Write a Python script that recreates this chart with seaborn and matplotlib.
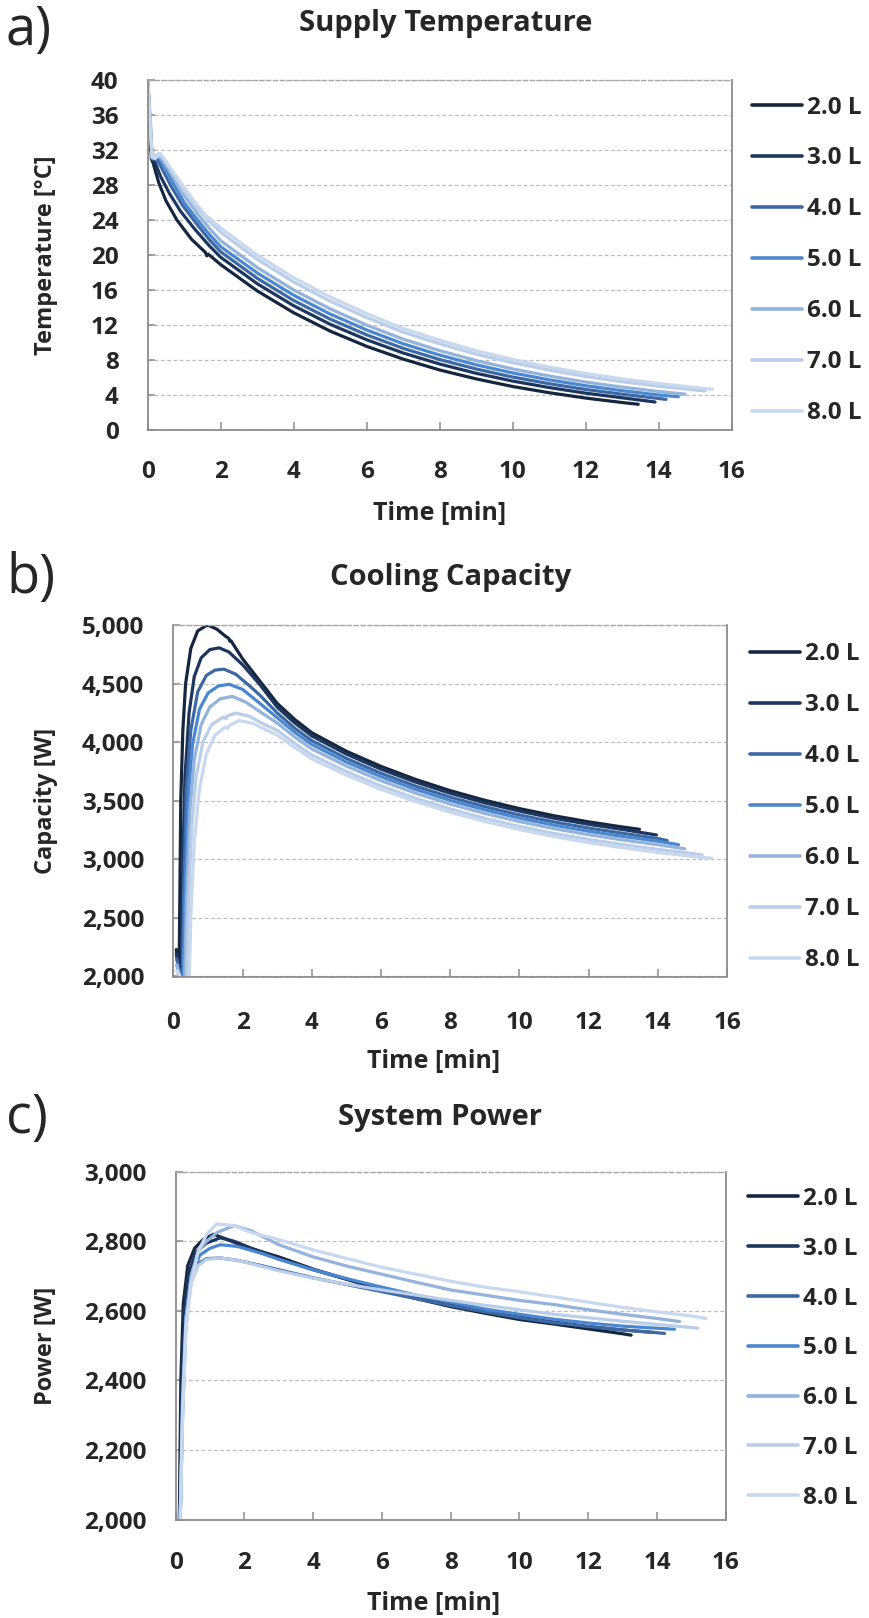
import matplotlib
matplotlib.use("Agg")
import matplotlib.pyplot as plt
import numpy as np
import pandas as pd
import seaborn as sns
from matplotlib.lines import Line2D
from matplotlib.ticker import FuncFormatter

# ---------------------------------------------------------------------------
# Series labels and colours (tank volume)
# ---------------------------------------------------------------------------
volumes = ["2.0 L", "3.0 L", "4.0 L", "5.0 L", "6.0 L", "7.0 L", "8.0 L"]
colors = ["#14273f", "#1c3660", "#3d68a3", "#4a87d2", "#93b2dc", "#bacde9", "#c8d9ef"]

# ---------------------------------------------------------------------------
# a) Supply temperature [°C] vs time [min]
# ---------------------------------------------------------------------------
t_sup_2 = [0, 0.06, 0.1, 0.15, 0.3, 0.5, 0.8, 1.2, 1.58, 1.62, 1.66, 2, 3, 4, 5, 6, 7, 8, 9, 10, 11, 12, 13, 13.44]
sup_2 = [40, 35, 31, 30.5, 28.3, 26.2, 24.0, 21.8, 20.3, 19.9, 20.1, 18.9, 15.9, 13.4, 11.3, 9.56, 8.1, 6.86, 5.84, 4.97, 4.26, 3.65, 3.14, 2.94]

t_sup_3 = [0, 0.08, 0.12, 0.2, 0.35, 0.6, 0.9, 1.3, 1.7, 2, 3, 4, 5, 6, 7, 8, 9, 10, 11, 12, 13, 13.9]
sup_3 = [40, 33, 31, 30.6, 29.0, 27.0, 25.0, 22.9, 21.0, 19.74, 16.72, 14.2, 12.08, 10.31, 8.8, 7.54, 6.48, 5.59, 4.85, 4.21, 3.68, 3.2]

t_sup_4 = [0, 0.08, 0.12, 0.25, 0.4, 0.65, 0.95, 1.35, 1.7, 2, 3, 4, 5, 6, 7, 8, 9, 10, 11, 12, 13, 14, 14.2]
sup_4 = [40, 34, 31, 31, 29.8, 27.8, 25.7, 23.5, 21.7, 20.37, 17.34, 14.8, 12.67, 10.87, 9.33, 8.05, 6.97, 6.05, 5.29, 4.63, 4.09, 3.6, 3.5]

t_sup_5 = [0, 0.08, 0.12, 0.28, 0.45, 0.7, 1.0, 1.4, 1.7, 2, 3, 4, 5, 6, 7, 8, 9, 10, 11, 12, 13, 14, 14.54]
sup_5 = [40, 34, 31.1, 31.2, 30.2, 28.2, 26.0, 23.8, 22.3, 20.95, 17.95, 15.4, 13.25, 11.43, 9.85, 8.56, 7.45, 6.52, 5.73, 5.06, 4.49, 4.0, 3.8]

t_sup_6 = [0, 0.08, 0.12, 0.3, 0.48, 0.72, 1.0, 1.4, 1.7, 2, 3, 4, 5, 6, 7, 8, 9, 10, 11, 12, 13, 14, 14.72]
sup_6 = [40, 35, 31.1, 31.4, 30.4, 28.7, 26.8, 24.5, 23.0, 21.63, 18.57, 16.0, 13.84, 11.99, 10.38, 9.07, 7.93, 6.98, 6.17, 5.48, 4.9, 4.4, 4.1]

t_sup_7 = [0, 0.07, 0.12, 0.32, 0.5, 0.75, 1.0, 1.3, 1.6, 1.63, 1.66, 2, 3, 4, 5, 6, 7, 8, 9, 10, 11, 12, 13, 14, 15, 15.27]
sup_7 = [40, 35, 31.2, 31.6, 30.6, 29.0, 27.3, 25.6, 24.2, 23.8, 24.0, 22.6, 19.51, 16.92, 14.73, 12.85, 11.18, 9.85, 8.67, 7.69, 6.85, 6.12, 5.52, 5.0, 4.58, 4.46]

t_sup_8 = [0, 0.05, 0.12, 0.2, 0.34, 0.5, 0.75, 1.0, 1.3, 1.58, 1.61, 1.64, 2, 3, 4, 5, 6, 7, 8, 9, 10, 11, 12, 13, 14, 15, 15.47]
sup_8 = [40, 36, 31.2, 31.0, 31.6, 30.7, 29.2, 27.7, 26.0, 24.6, 24.0, 24.4, 23.1, 20.0, 17.4, 15.2, 13.3, 11.6, 10.26, 9.06, 8.06, 7.2, 6.46, 5.84, 5.31, 4.85, 4.65]

# ---------------------------------------------------------------------------
# b) Cooling capacity [W] vs time [min]
# ---------------------------------------------------------------------------
t_cap_2 = [0.08, 0.12, 0.16, 0.21, 0.27, 0.35, 0.5, 0.7, 0.98, 1.25, 1.5, 1.6, 1.63, 1.66, 2, 2.5, 3, 3.5, 4, 5, 6, 7, 8, 9, 10, 11, 12, 13, 13.47]
cap_2 = [2230, 2150, 1980, 3500, 4100, 4500, 4800, 4950, 5000, 4965, 4905, 4885, 4862, 4866, 4710, 4520, 4330, 4195, 4080, 3922, 3793, 3682, 3586, 3504, 3433, 3372, 3320, 3275, 3256]

t_cap_3 = [0.08, 0.15, 0.22, 0.27, 0.33, 0.45, 0.6, 0.8, 1.05, 1.32, 1.6, 2, 2.5, 3, 3.5, 4, 5, 6, 7, 8, 9, 10, 11, 12, 13, 13.96]
cap_3 = [2200, 2050, 1950, 3000, 3700, 4250, 4560, 4720, 4790, 4805, 4770, 4660, 4490, 4298, 4165, 4053, 3898, 3769, 3659, 3564, 3482, 3412, 3351, 3299, 3254, 3208]

t_cap_4 = [0.1, 0.18, 0.25, 0.3, 0.37, 0.5, 0.7, 0.95, 1.2, 1.46, 1.8, 2.2, 2.5, 3, 3.5, 4, 5, 6, 7, 8, 9, 10, 11, 12, 13, 14, 14.27]
cap_4 = [2150, 2000, 1950, 2800, 3600, 4100, 4430, 4570, 4615, 4623, 4580, 4480, 4400, 4249, 4120, 4013, 3861, 3734, 3625, 3531, 3450, 3379, 3319, 3267, 3222, 3178, 3160]

t_cap_5 = [0.1, 0.2, 0.28, 0.34, 0.42, 0.55, 0.75, 1.0, 1.3, 1.61, 2, 2.5, 3, 3.5, 4, 5, 6, 7, 8, 9, 10, 11, 12, 13, 14, 14.6]
cap_5 = [2100, 1950, 1950, 2800, 3500, 3980, 4280, 4420, 4480, 4494, 4450, 4330, 4208, 4085, 3980, 3830, 3705, 3597, 3503, 3423, 3352, 3292, 3240, 3195, 3155, 3125]

t_cap_6 = [0.1, 0.22, 0.32, 0.38, 0.47, 0.6, 0.8, 1.05, 1.35, 1.7, 2.1, 2.5, 3, 3.5, 4, 5, 6, 7, 8, 9, 10, 11, 12, 13, 14, 14.78]
cap_6 = [2100, 1950, 1950, 2700, 3400, 3850, 4150, 4300, 4370, 4391, 4340, 4260, 4163, 4045, 3942, 3796, 3671, 3565, 3472, 3392, 3322, 3262, 3210, 3165, 3125, 3090]

t_cap_7 = [0.1, 0.25, 0.38, 0.43, 0.52, 0.65, 0.85, 1.1, 1.45, 1.52, 1.56, 1.8, 2.2, 2.5, 3, 3.5, 4, 5, 6, 7, 8, 9, 10, 11, 12, 13, 14, 15, 15.28]
cap_7 = [2050, 1950, 1950, 2600, 3250, 3700, 4000, 4150, 4215, 4200, 4225, 4248, 4220, 4170, 4100, 3990, 3890, 3749, 3626, 3521, 3430, 3350, 3281, 3221, 3170, 3125, 3085, 3050, 3038]

t_cap_8 = [0.1, 0.28, 0.45, 0.5, 0.6, 0.75, 0.95, 1.2, 1.5, 1.56, 1.6, 1.9, 2.3, 2.5, 3, 3.5, 4, 5, 6, 7, 8, 9, 10, 11, 12, 13, 14, 15, 15.55]
cap_8 = [2050, 1950, 1950, 2500, 3150, 3600, 3900, 4060, 4130, 4115, 4140, 4185, 4160, 4130, 4060, 3955, 3857, 3718, 3597, 3493, 3402, 3323, 3254, 3194, 3143, 3098, 3059, 3025, 3008]

# ---------------------------------------------------------------------------
# c) System power [W] vs time [min]
# ---------------------------------------------------------------------------
t_pow_2 = [0.1, 0.15, 0.22, 0.35, 0.55, 0.8, 1.1, 1.5, 2, 2.5, 3, 4, 5, 6, 7, 8, 9, 10, 11, 12, 13, 13.25]
pow_2 = [1950, 2400, 2620, 2730, 2780, 2805, 2820, 2805, 2785, 2770, 2755, 2720, 2690, 2660, 2635, 2612, 2593, 2575, 2562, 2548, 2534, 2530]

t_pow_3 = [0.1, 0.17, 0.25, 0.38, 0.6, 0.9, 1.3, 1.7, 2.2, 3, 4, 5, 6, 7, 8, 9, 10, 11, 12, 13, 13.9]
pow_3 = [1950, 2350, 2600, 2710, 2770, 2795, 2810, 2800, 2780, 2750, 2718, 2690, 2662, 2638, 2617, 2598, 2582, 2568, 2555, 2545, 2538]

t_pow_4 = [0.12, 0.2, 0.3, 0.45, 0.65, 0.9, 1.3, 1.8, 2.5, 3, 4, 5, 6, 7, 8, 9, 10, 11, 12, 13, 14, 14.22]
pow_4 = [1950, 2350, 2580, 2690, 2735, 2750, 2752, 2745, 2730, 2718, 2695, 2675, 2655, 2635, 2615, 2597, 2580, 2566, 2555, 2545, 2537, 2535]

t_pow_5 = [0.12, 0.2, 0.3, 0.45, 0.7, 1.0, 1.3, 1.8, 2.5, 3, 4, 5, 6, 7, 8, 9, 10, 11, 12, 13, 14, 14.51]
pow_5 = [1950, 2300, 2580, 2700, 2760, 2780, 2790, 2785, 2765, 2748, 2718, 2692, 2668, 2645, 2625, 2605, 2590, 2576, 2565, 2556, 2550, 2547]

t_pow_6 = [0.12, 0.2, 0.3, 0.45, 0.65, 0.9, 1.2, 1.7, 2.2, 3, 4, 5, 6, 7, 8, 9, 10, 11, 12, 13, 14, 14.66]
pow_6 = [1950, 2350, 2580, 2700, 2770, 2800, 2825, 2845, 2830, 2790, 2755, 2728, 2705, 2682, 2660, 2645, 2630, 2618, 2603, 2590, 2578, 2569]

t_pow_7 = [0.12, 0.2, 0.3, 0.45, 0.65, 0.9, 1.3, 1.8, 2.5, 3, 4, 5, 6, 7, 8, 9, 10, 11, 12, 13, 14, 15, 15.19]
pow_7 = [1950, 2300, 2560, 2680, 2730, 2748, 2752, 2745, 2728, 2715, 2694, 2676, 2660, 2645, 2630, 2616, 2603, 2590, 2580, 2570, 2561, 2552, 2550]

t_pow_8 = [0.12, 0.2, 0.3, 0.45, 0.65, 0.9, 1.2, 1.7, 2.2, 3, 4, 5, 6, 7, 8, 9, 10, 11, 12, 13, 14, 15, 15.43]
pow_8 = [1950, 2300, 2550, 2680, 2770, 2820, 2850, 2845, 2825, 2805, 2775, 2750, 2725, 2705, 2685, 2668, 2655, 2640, 2625, 2610, 2597, 2585, 2578]

# Axis ticks
time_ticks = list(range(0, 17, 2))
temp_ticks = list(range(0, 41, 4))
cap_ticks = list(range(2000, 5001, 500))
pow_ticks = list(range(2000, 3001, 200))


def long_frame(times, values):
    parts = [pd.DataFrame({"time": t, "value": v, "volume": lab})
             for lab, t, v in zip(volumes, times, values)]
    return pd.concat(parts, ignore_index=True)


sns.set_theme(style="white")
plt.rcParams["font.family"] = ["Open Sans", "DejaVu Sans"]
plt.rcParams["font.weight"] = "bold"

W, H = 870, 1618
fig = plt.figure(figsize=(W / 100, H / 100), dpi=100)


def px_box(left, top, right, bottom):
    return [left / W, 1 - bottom / H, (right - left) / W, (bottom - top) / H]


panels = [
    dict(box=(147.7, 80, 731.7, 430), frame=long_frame(
        [t_sup_2, t_sup_3, t_sup_4, t_sup_5, t_sup_6, t_sup_7, t_sup_8],
        [sup_2, sup_3, sup_4, sup_5, sup_6, sup_7, sup_8]),
        yticks=temp_ticks, comma=False, xpad=21.5,
        title="Supply Temperature", title_xy=(446, 24),
        tag="a)", tag_xy=(6, 31), ylabel="Temperature [°C]", ylabel_x=46,
        xlabel_xy=(440, 513), legend_xy=(752, 95.5), spacing=1.11),
    dict(box=(173.5, 625, 727, 976.5), frame=long_frame(
        [t_cap_2, t_cap_3, t_cap_4, t_cap_5, t_cap_6, t_cap_7, t_cap_8],
        [cap_2, cap_3, cap_4, cap_5, cap_6, cap_7, cap_8]),
        yticks=cap_ticks, comma=True, xpad=24.5,
        title="Cooling Capacity", title_xy=(451, 577),
        tag="b)", tag_xy=(6, 578), ylabel="Capacity [W]", ylabel_x=46,
        xlabel_xy=(434, 1061), legend_xy=(750, 642.5), spacing=1.11),
    dict(box=(175.7, 1171.7, 725.7, 1519.5), frame=long_frame(
        [t_pow_2, t_pow_3, t_pow_4, t_pow_5, t_pow_6, t_pow_7, t_pow_8],
        [pow_2, pow_3, pow_4, pow_5, pow_6, pow_7, pow_8]),
        yticks=pow_ticks, comma=True, xpad=22.5,
        title="System Power", title_xy=(440, 1118),
        tag="c)", tag_xy=(6, 1118), ylabel="Power [W]", ylabel_x=46,
        xlabel_xy=(434, 1603), legend_xy=(748, 1187), spacing=1.06),
]

spine_col = "#8c8c8c"
grid_col = "#bdbdbd"
palette = dict(zip(volumes, colors))

for p in panels:
    l, t, r, b = p["box"]
    ax = fig.add_axes(px_box(l, t, r, b))
    sns.lineplot(data=p["frame"], x="time", y="value", hue="volume", palette=palette,
                 hue_order=volumes, estimator=None, sort=False, linewidth=2.3,
                 legend=False, ax=ax)
    ax.set_xlim(0, 16)
    ax.set_ylim(p["yticks"][0], p["yticks"][-1])
    ax.set_xticks(time_ticks)
    ax.set_yticks(p["yticks"])
    if p["comma"]:
        ax.yaxis.set_major_formatter(FuncFormatter(lambda v, _: f"{int(v):,}"))
    ax.set_xlabel("")
    ax.set_ylabel("")
    ax.yaxis.grid(True, color=grid_col, linestyle=(0, (3, 2)), linewidth=0.9)
    ax.xaxis.grid(False)
    for side in ("left", "bottom", "right"):
        ax.spines[side].set_color(spine_col)
        ax.spines[side].set_linewidth(1.3)
    ax.spines["top"].set_color("#a8a8a8")
    ax.spines["top"].set_linestyle((0, (3, 2)))
    ax.spines["top"].set_linewidth(1.0)
    ax.tick_params(axis="x", direction="in", length=6, width=1.1, color=spine_col,
                   labelsize=17.5, pad=p["xpad"], bottom=True)
    ax.tick_params(axis="y", direction="in", length=5, width=1.1, color=spine_col,
                   labelsize=17.5, pad=21, left=True)
    for lab in ax.get_xticklabels() + ax.get_yticklabels():
        lab.set_fontweight("bold")

    # titles, panel tags and axis captions
    fig.text(p["title_xy"][0] / W, 1 - p["title_xy"][1] / H, p["title"],
             ha="center", va="center", fontsize=21, fontweight="bold")
    fig.text(p["tag_xy"][0] / W, 1 - p["tag_xy"][1] / H, p["tag"],
             ha="left", va="center", fontsize=39, fontweight="normal")
    fig.text(p["ylabel_x"] / W, 1 - ((t + b) / 2) / H, p["ylabel"], rotation=90,
             ha="center", va="center", fontsize=17, fontweight="bold")
    fig.text(p["xlabel_xy"][0] / W, 1 - p["xlabel_xy"][1] / H, "Time [min]",
             ha="center", va="center", fontsize=18, fontweight="bold")

    handles = [Line2D([0], [0], color=c, linewidth=2.6) for c in colors]
    fig.legend(handles, volumes, loc="upper left",
               bbox_to_anchor=(p["legend_xy"][0] / W, 1 - p["legend_xy"][1] / H),
               frameon=False, prop=dict(size=17.5, weight="bold"), handlelength=2.05,
               handletextpad=0.2, labelspacing=p["spacing"], borderpad=0, borderaxespad=0)

fig.savefig("out.png", dpi=100, facecolor="white")
